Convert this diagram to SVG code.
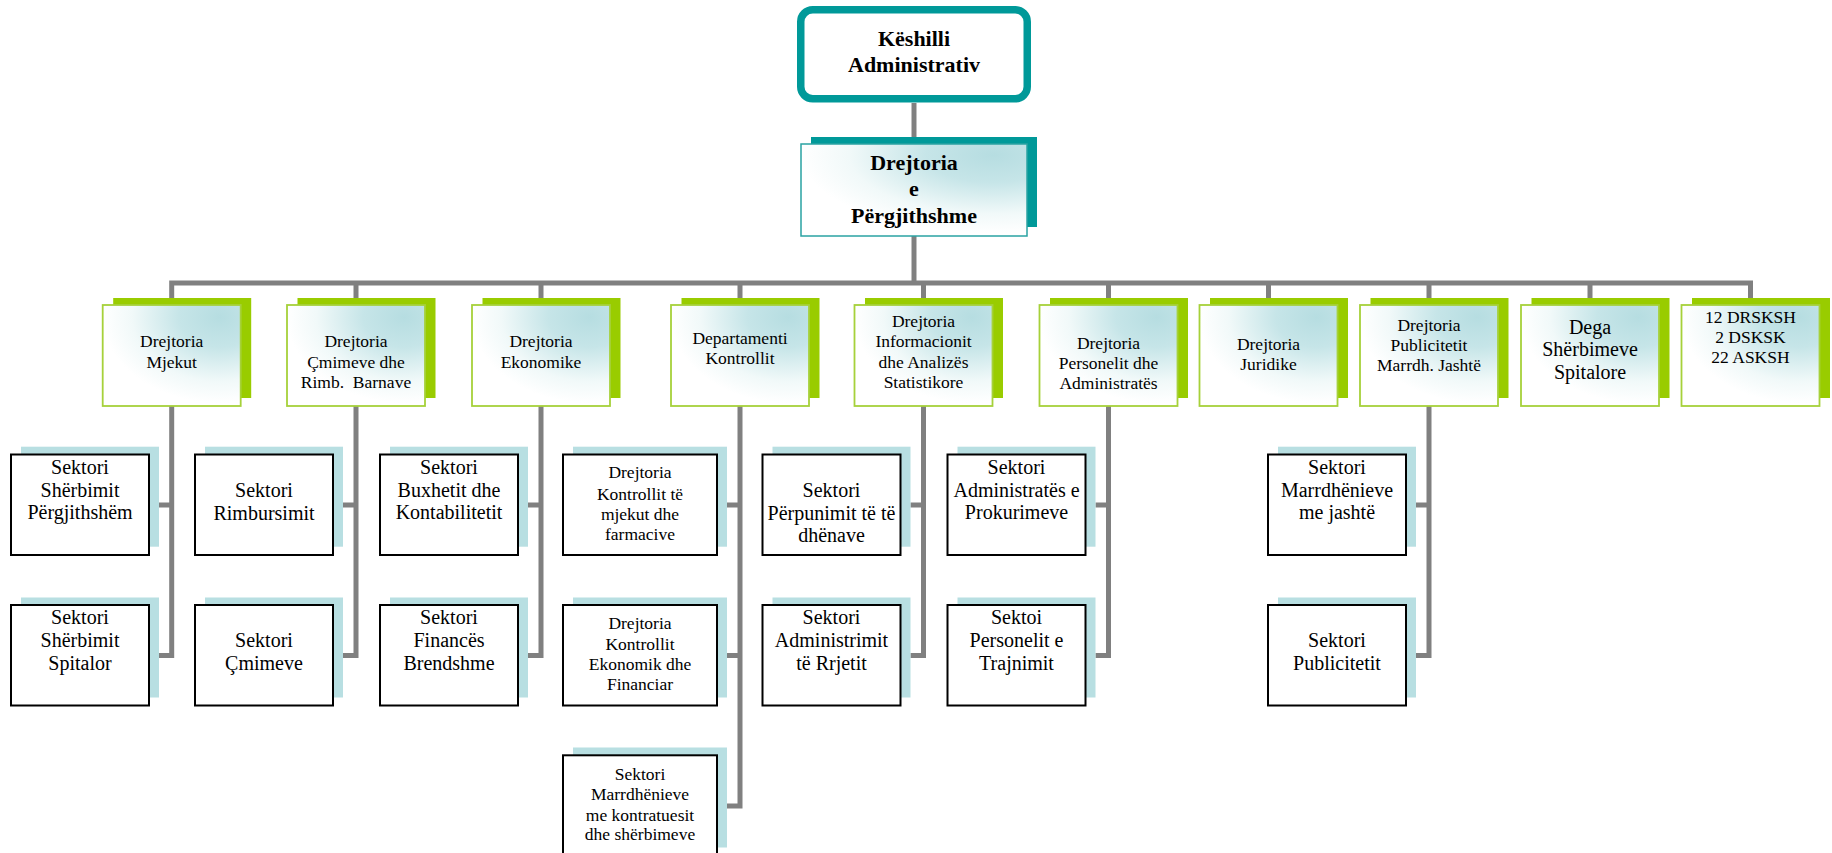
<svg xmlns="http://www.w3.org/2000/svg" width="1832" height="853" viewBox="0 0 1832 853">
  <defs>
    <radialGradient id="paleTeal" cx="0.85" cy="0.12" r="0.85" fx="0.85" fy="0.12">
      <stop offset="0" stop-color="#b6dde1"/>
      <stop offset="0.35" stop-color="#c6e5e8"/>
      <stop offset="0.75" stop-color="#f1f9f9"/>
      <stop offset="1" stop-color="#ffffff"/>
    </radialGradient>
    <style>
      text { font-family: "Liberation Serif", "Times New Roman", serif; fill: #000; text-anchor: middle; white-space: pre; }
      .t-top { font-size: 22px; font-weight: bold; }
      .t-dir { font-size: 17.5px; }
      .t-big { font-size: 20px; }
      .t-sec { font-size: 20px; }
      .t-small { font-size: 17.5px; }
      .link { fill: none; stroke: #808080; stroke-width: 5; stroke-linejoin: miter; stroke-linecap: butt; }
      .board { fill: #ffffff; stroke: #009999; stroke-width: 7.5; }
      .gm-shadow { fill: #009999; }
      .gm-box { fill: url(#paleTeal); stroke: #2aa3a3; stroke-width: 1.5; }
      .dir-shadow { fill: #99cc00; }
      .dir-box { fill: url(#paleTeal); stroke: #a6d13a; stroke-width: 1.8; }
      .sec-shadow { fill: #b8dfe2; }
      .sec-box { fill: #ffffff; stroke: #000000; stroke-width: 2; }
    </style>
  </defs>

  <rect width="1832" height="853" fill="#ffffff"/>

  <!-- connectors -->
  <g id="connectors">
    <path class="link" d="M914 103 V144"/>
    <path class="link" d="M914 236 V283"/>
    <path class="link" d="M171.7 305 V283 H1750.5 V305"/>
    <path class="link" d="M356 283 V305 M541 283 V305 M740 283 V305 M923.5 283 V305 M1108.5 283 V305 M1268.5 283 V305 M1429 283 V305 M1590 283 V305"/>
    <!-- Mjekut sectors -->
    <path class="link" d="M171.7 406 V655.5 H158.7 M158.7 505 H171.7"/>
    <!-- Cmimeve sectors -->
    <path class="link" d="M356 406 V655.5 H343 M343 505 H356"/>
    <!-- Ekonomike sectors -->
    <path class="link" d="M541 406 V655.5 H528 M528 505 H541"/>
    <!-- Kontrollit -->
    <path class="link" d="M740 406 V806 H727 M727 505 H740 M727 655.5 H740"/>
    <!-- Informacionit -->
    <path class="link" d="M923.5 406 V655.5 H910.5 M910.5 505 H923.5"/>
    <!-- Personelit -->
    <path class="link" d="M1108.5 406 V655.5 H1095.5 M1095.5 505 H1108.5"/>
    <!-- Publicitetit -->
    <path class="link" d="M1429 406 V655.5 H1416 M1416 505 H1429"/>
  </g>

  <!-- top level -->
  <g id="keshilli">
    <rect class="board" x="800.75" y="9.75" width="226.5" height="89" rx="12"/>
    <text class="t-top" x="914" y="45.5">Këshilli</text>
    <text class="t-top" x="914" y="71.5">Administrativ</text>
  </g>

  <g id="drejtoria-pergjithshme">
    <rect class="gm-shadow" x="811" y="137" width="226" height="90"/>
    <rect class="gm-box" x="801" y="144" width="226" height="92"/>
    <text class="t-top" x="914" y="170">Drejtoria</text>
    <text class="t-top" x="914" y="196">e</text>
    <text class="t-top" x="914" y="222.5">Përgjithshme</text>
  </g>

  <!-- directorates -->
  <g id="dir-mjekut">
    <rect class="dir-shadow" x="113.2" y="298" width="138" height="100"/>
    <rect class="dir-box" x="102.7" y="305" width="138" height="101"/>
    <text class="t-dir" x="171.7" y="347.3">Drejtoria</text>
    <text class="t-dir" x="171.7" y="367.8">Mjekut</text>
  </g>
  <g id="dir-cmimeve">
    <rect class="dir-shadow" x="297.5" y="298" width="138" height="100"/>
    <rect class="dir-box" x="287" y="305" width="138" height="101"/>
    <text class="t-dir" x="356" y="347.3">Drejtoria</text>
    <text class="t-dir" x="356" y="367.8">Çmimeve dhe</text>
    <text class="t-dir" x="356" y="388.3">Rimb.  Barnave</text>
  </g>
  <g id="dir-ekonomike">
    <rect class="dir-shadow" x="482.5" y="298" width="138" height="100"/>
    <rect class="dir-box" x="472" y="305" width="138" height="101"/>
    <text class="t-dir" x="541" y="347.3">Drejtoria</text>
    <text class="t-dir" x="541" y="367.8">Ekonomike</text>
  </g>
  <g id="dep-kontrollit">
    <rect class="dir-shadow" x="681.5" y="298" width="138" height="100"/>
    <rect class="dir-box" x="671" y="305" width="138" height="101"/>
    <text class="t-dir" x="740" y="344">Departamenti</text>
    <text class="t-dir" x="740" y="364.3">Kontrollit</text>
  </g>
  <g id="dir-informacionit">
    <rect class="dir-shadow" x="865" y="298" width="138" height="100"/>
    <rect class="dir-box" x="854.5" y="305" width="138" height="101"/>
    <text class="t-dir" x="923.5" y="326.7">Drejtoria</text>
    <text class="t-dir" x="923.5" y="347.2">Informacionit</text>
    <text class="t-dir" x="923.5" y="367.7">dhe Analizës</text>
    <text class="t-dir" x="923.5" y="388">Statistikore</text>
  </g>
  <g id="dir-personelit">
    <rect class="dir-shadow" x="1050" y="298" width="138" height="100"/>
    <rect class="dir-box" x="1039.5" y="305" width="138" height="101"/>
    <text class="t-dir" x="1108.5" y="349">Drejtoria</text>
    <text class="t-dir" x="1108.5" y="369">Personelit dhe</text>
    <text class="t-dir" x="1108.5" y="388.5">Administratës</text>
  </g>
  <g id="dir-juridike">
    <rect class="dir-shadow" x="1210" y="298" width="138" height="100"/>
    <rect class="dir-box" x="1199.5" y="305" width="138" height="101"/>
    <text class="t-dir" x="1268.5" y="350">Drejtoria</text>
    <text class="t-dir" x="1268.5" y="370">Juridike</text>
  </g>
  <g id="dir-publicitetit">
    <rect class="dir-shadow" x="1370.5" y="298" width="138" height="100"/>
    <rect class="dir-box" x="1360" y="305" width="138" height="101"/>
    <text class="t-dir" x="1429" y="330.5">Drejtoria</text>
    <text class="t-dir" x="1429" y="350.5">Publicitetit</text>
    <text class="t-dir" x="1429" y="370.5">Marrdh. Jashtë</text>
  </g>
  <g id="dega-spitalore">
    <rect class="dir-shadow" x="1531.5" y="298" width="138" height="100"/>
    <rect class="dir-box" x="1521" y="305" width="138" height="101"/>
    <text class="t-big" x="1590" y="334">Dega</text>
    <text class="t-big" x="1590" y="356.3">Shërbimeve</text>
    <text class="t-big" x="1590" y="378.5">Spitalore</text>
  </g>
  <g id="rajonale">
    <rect class="dir-shadow" x="1692" y="298" width="138" height="100"/>
    <rect class="dir-box" x="1681.5" y="305" width="138" height="101"/>
    <text class="t-dir" x="1750.5" y="323.3">12 DRSKSH</text>
    <text class="t-dir" x="1750.5" y="343.3">2 DSKSK</text>
    <text class="t-dir" x="1750.5" y="363.3">22 ASKSH</text>
  </g>

  <!-- sectors under Drejtoria Mjekut -->
  <g id="sek-sherbimit-pergj">
    <rect class="sec-shadow" x="21" y="446.7" width="138" height="100"/>
    <rect class="sec-box" x="11" y="454.5" width="138" height="100.5"/>
    <text class="t-sec" x="80" y="474">Sektori</text>
    <text class="t-sec" x="80" y="496.7">Shërbimit</text>
    <text class="t-sec" x="80" y="519.4">Përgjithshëm</text>
  </g>
  <g id="sek-sherbimit-spit">
    <rect class="sec-shadow" x="21" y="597.5" width="138" height="100"/>
    <rect class="sec-box" x="11" y="605" width="138" height="100.5"/>
    <text class="t-sec" x="80" y="624.3">Sektori</text>
    <text class="t-sec" x="80" y="647">Shërbimit</text>
    <text class="t-sec" x="80" y="669.7">Spitalor</text>
  </g>

  <!-- sectors under Drejtoria Cmimeve -->
  <g id="sek-rimbursimit">
    <rect class="sec-shadow" x="205" y="446.7" width="138" height="100"/>
    <rect class="sec-box" x="195" y="454.5" width="138" height="100.5"/>
    <text class="t-sec" x="264" y="497.3">Sektori</text>
    <text class="t-sec" x="264" y="520.3">Rimbursimit</text>
  </g>
  <g id="sek-cmimeve">
    <rect class="sec-shadow" x="205" y="597.5" width="138" height="100"/>
    <rect class="sec-box" x="195" y="605" width="138" height="100.5"/>
    <text class="t-sec" x="264" y="647.3">Sektori</text>
    <text class="t-sec" x="264" y="670.3">Çmimeve</text>
  </g>

  <!-- sectors under Drejtoria Ekonomike -->
  <g id="sek-buxhetit">
    <rect class="sec-shadow" x="390" y="446.7" width="138" height="100"/>
    <rect class="sec-box" x="380" y="454.5" width="138" height="100.5"/>
    <text class="t-sec" x="449" y="474">Sektori</text>
    <text class="t-sec" x="449" y="496.7">Buxhetit dhe</text>
    <text class="t-sec" x="449" y="519.4">Kontabilitetit</text>
  </g>
  <g id="sek-finances">
    <rect class="sec-shadow" x="390" y="597.5" width="138" height="100"/>
    <rect class="sec-box" x="380" y="605" width="138" height="100.5"/>
    <text class="t-sec" x="449" y="624.3">Sektori</text>
    <text class="t-sec" x="449" y="647">Financës</text>
    <text class="t-sec" x="449" y="669.7">Brendshme</text>
  </g>

  <!-- units under Departamenti Kontrollit -->
  <g id="dr-kontrollit-mjekut">
    <rect class="sec-shadow" x="573" y="446.7" width="154" height="100"/>
    <rect class="sec-box" x="563" y="454.5" width="154" height="100.5"/>
    <text class="t-small" x="640" y="478.3">Drejtoria</text>
    <text class="t-small" x="640" y="499.5">Kontrollit të</text>
    <text class="t-small" x="640" y="520">mjekut dhe</text>
    <text class="t-small" x="640" y="540.3">farmacive</text>
  </g>
  <g id="dr-kontrollit-ekonomik">
    <rect class="sec-shadow" x="573" y="597.5" width="154" height="100"/>
    <rect class="sec-box" x="563" y="605" width="154" height="100.5"/>
    <text class="t-small" x="640" y="629">Drejtoria</text>
    <text class="t-small" x="640" y="649.5">Kontrollit</text>
    <text class="t-small" x="640" y="670">Ekonomik dhe</text>
    <text class="t-small" x="640" y="690.3">Financiar</text>
  </g>
  <g id="sek-kontratuesit">
    <rect class="sec-shadow" x="573" y="747.5" width="154" height="100"/>
    <rect class="sec-box" x="563" y="755.3" width="154" height="100.5"/>
    <text class="t-small" x="640" y="780">Sektori</text>
    <text class="t-small" x="640" y="800.3">Marrdhënieve</text>
    <text class="t-small" x="640" y="820.7">me kontratuesit</text>
    <text class="t-small" x="640" y="840.3">dhe shërbimeve</text>
  </g>

  <!-- sectors under Drejtoria Informacionit -->
  <g id="sek-perpunimit">
    <rect class="sec-shadow" x="772.5" y="446.7" width="138" height="100"/>
    <rect class="sec-box" x="762.5" y="454.5" width="138" height="100.5"/>
    <text class="t-sec" x="831.5" y="497">Sektori</text>
    <text class="t-sec" x="831.5" y="519.6">Përpunimit të të</text>
    <text class="t-sec" x="831.5" y="542.2">dhënave</text>
  </g>
  <g id="sek-rrjetit">
    <rect class="sec-shadow" x="772.5" y="597.5" width="138" height="100"/>
    <rect class="sec-box" x="762.5" y="605" width="138" height="100.5"/>
    <text class="t-sec" x="831.5" y="624.3">Sektori</text>
    <text class="t-sec" x="831.5" y="647">Administrimit</text>
    <text class="t-sec" x="831.5" y="669.7">të Rrjetit</text>
  </g>

  <!-- sectors under Drejtoria Personelit -->
  <g id="sek-prokurimeve">
    <rect class="sec-shadow" x="957.5" y="446.7" width="138" height="100"/>
    <rect class="sec-box" x="947.5" y="454.5" width="138" height="100.5"/>
    <text class="t-sec" x="1016.5" y="474">Sektori</text>
    <text class="t-sec" x="1016.5" y="496.7">Administratës e</text>
    <text class="t-sec" x="1016.5" y="519.4">Prokurimeve</text>
  </g>
  <g id="sek-trajnimit">
    <rect class="sec-shadow" x="957.5" y="597.5" width="138" height="100"/>
    <rect class="sec-box" x="947.5" y="605" width="138" height="100.5"/>
    <text class="t-sec" x="1016.5" y="624.3">Sektoi</text>
    <text class="t-sec" x="1016.5" y="647">Personelit e</text>
    <text class="t-sec" x="1016.5" y="669.7">Trajnimit</text>
  </g>

  <!-- sectors under Drejtoria Publicitetit -->
  <g id="sek-marrdh-jashte">
    <rect class="sec-shadow" x="1278" y="446.7" width="138" height="100"/>
    <rect class="sec-box" x="1268" y="454.5" width="138" height="100.5"/>
    <text class="t-sec" x="1337" y="474">Sektori</text>
    <text class="t-sec" x="1337" y="496.7">Marrdhënieve</text>
    <text class="t-sec" x="1337" y="519.4">me jashtë</text>
  </g>
  <g id="sek-publicitetit">
    <rect class="sec-shadow" x="1278" y="597.5" width="138" height="100"/>
    <rect class="sec-box" x="1268" y="605" width="138" height="100.5"/>
    <text class="t-sec" x="1337" y="647.3">Sektori</text>
    <text class="t-sec" x="1337" y="670.3">Publicitetit</text>
  </g>
</svg>
